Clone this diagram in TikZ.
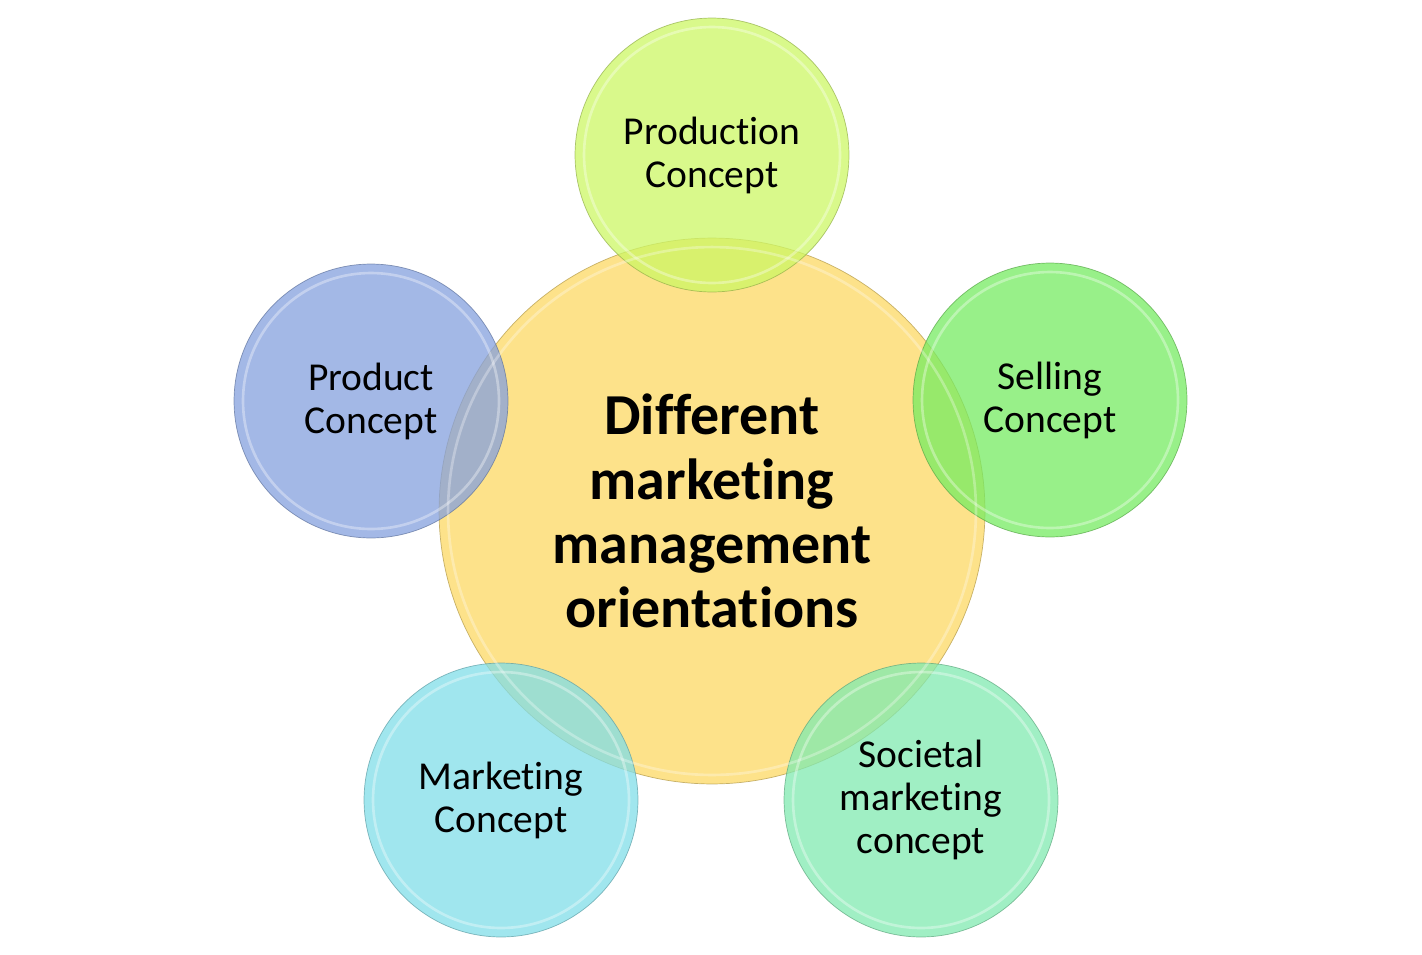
\documentclass[tikz,border=0pt]{standalone}
\usepackage{fontspec}
\setmainfont{Carlito}[Ligatures=NoCommon]
\usetikzlibrary{positioning}

\definecolor{hubfill}{HTML}{FCD863}
\definecolor{prodnfill}{HTML}{CCF764}
\definecolor{sellfill}{HTML}{76EB61}
\definecolor{socfill}{HTML}{80EAB0}
\definecolor{mktfill}{HTML}{80DEE8}
\definecolor{prodtfill}{HTML}{84A0DE}

\begin{document}
\begin{tikzpicture}[x=0.02cm, y=-0.02cm]
\useasboundingbox (0, 0) rectangle (1422, 954);

\begin{scope}[every node/.style={circle, align=center, inner sep=0pt, text opacity=1,
                                 fill opacity=0.75, draw opacity=0.7, thin,
                                 font=\fontsize{22.5}{24.5}\selectfont}]
    \node (hub) at (712, 511) [minimum size=10.92cm, fill=hubfill, draw=hubfill!70!black,
        font=\fontsize{33}{36.5}\selectfont\bfseries]
        {Different\\marketing\\management\\orientations};

    \node (production) at (712, 155) [minimum size=5.48cm, fill=prodnfill, draw=prodnfill!70!black]
        {Production\\Concept};
    \node (selling) at (1050, 400) [minimum size=5.48cm, fill=sellfill, draw=sellfill!70!black]
        {Selling\\Concept};
    \node (societal) at (921, 800) [minimum size=5.48cm, fill=socfill, draw=socfill!70!black]
        {Societal\\marketing\\concept};
    \node (marketing) at (501, 800) [minimum size=5.48cm, fill=mktfill, draw=mktfill!70!black]
        {Marketing\\Concept};
    \node (product) at (371, 401) [minimum size=5.48cm, fill=prodtfill, draw=prodtfill!70!black]
        {Product\\Concept};
\end{scope}

% bevel rings
\draw [white, opacity=0.3, line width=1.5pt] (hub.center) circle (5.28cm);
\foreach \n in {production, selling, societal, marketing, product}
    \draw [white, opacity=0.35, line width=1.5pt] (\n.center) circle (2.56cm);
\end{tikzpicture}
\end{document}
